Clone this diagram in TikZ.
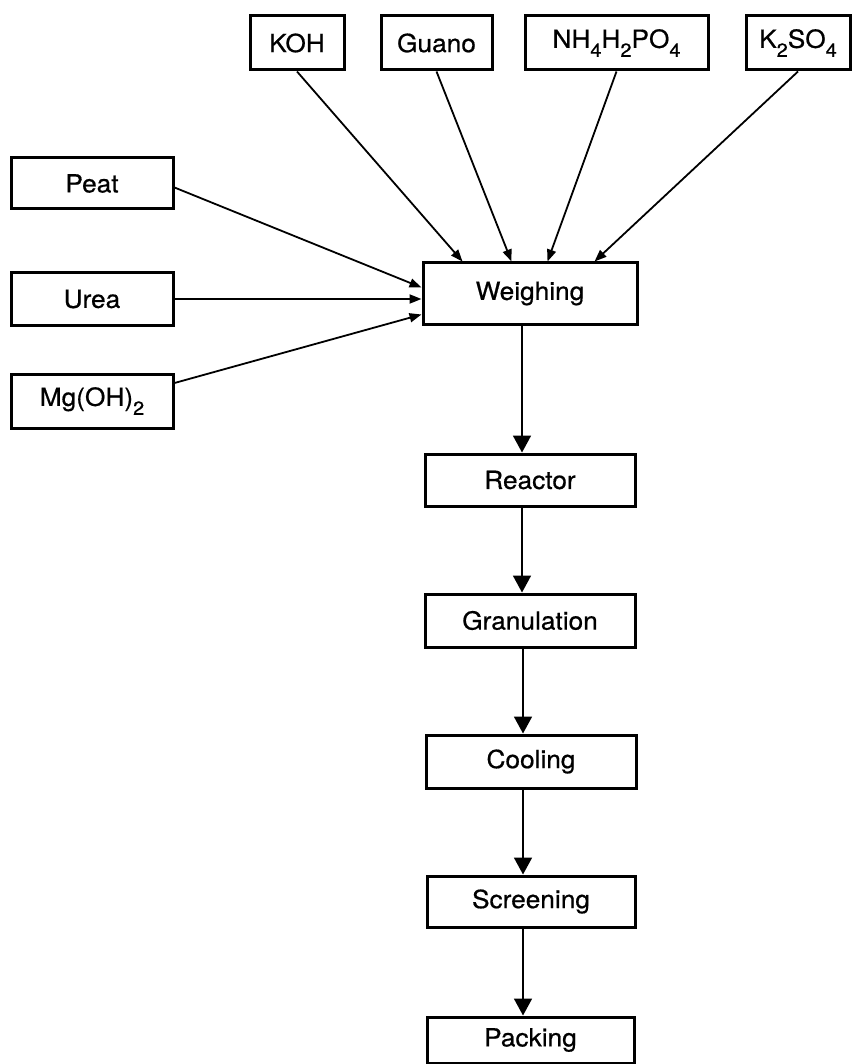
\documentclass[tikz,border=0pt]{standalone}
\usepackage{fontspec}
\setmainfont{TeX Gyre Heros}[FakeStretch=1.05,FakeBold=0.6]
\usetikzlibrary{arrows.meta}
\newcommand\sbs[1]{\raisebox{-9pt}{\fontsize{19}{19}\selectfont #1}}
\begin{document}
\begin{tikzpicture}[x=1pt,y=-1pt,
  box/.style={draw, line width=3pt, inner sep=0pt, font=\fontsize{25}{25}\selectfont},
  feed/.style={line width=1.8pt, -{Triangle[length=12pt,width=9pt]}},
  flow/.style={line width=1.8pt, -{Triangle[length=17pt,width=18pt]}}]
\useasboundingbox (0,0) rectangle (853,1064);
% top feeds
\node[box, minimum width=94pt, minimum height=54pt] (koh) at (297,43) {KOH};
\node[box, minimum width=111pt, minimum height=54pt] (guano) at (436.5,43) {Guano};
\node[box, minimum width=183pt, minimum height=54pt] (nh) at (616.5,43) {NH\sbs{4}H\sbs{2}PO\sbs{4}};
\node[box, minimum width=104pt, minimum height=54pt] (kso) at (798,43) {K\sbs{2}SO\sbs{4}};
% left feeds
\node[box, minimum width=162pt, minimum height=51pt] (peat) at (92,183.5) {Peat};
\node[box, minimum width=162pt, minimum height=52pt] (urea) at (92,299) {Urea};
\node[box, minimum width=162pt, minimum height=54pt] (mg) at (92,401) {Mg(OH)\sbs{2}};
% main chain
\node[box, minimum width=214pt, minimum height=61pt] (weigh) at (530,293.5) {Weighing};
\node[box, minimum width=210pt, minimum height=52pt] (reac) at (530,480) {Reactor};
\node[box, minimum width=210pt, minimum height=53pt] (gran) at (530,620.5) {Granulation};
\node[box, minimum width=210pt, minimum height=53pt] (cool) at (531,761.5) {Cooling};
\node[box, minimum width=208pt, minimum height=51pt] (scr) at (531,901.5) {Screening};
\node[box, minimum width=207pt, minimum height=46pt] (pack) at (530.5,1040) {Packing};
% converging feeds
\draw[feed] (koh.south) -- ([xshift=41pt]weigh.north west);
\draw[feed] (guano.south) -- ([xshift=90pt]weigh.north west);
\draw[feed] (nh.south) -- ([xshift=126pt]weigh.north west);
\draw[feed] (kso.south) -- ([xshift=173pt]weigh.north west);
\draw[feed] ([yshift=-4pt]peat.east) -- ([yshift=6pt]weigh.west);
\draw[feed] (urea.east) -- (urea.east -| weigh.west);
\draw[feed] ([yshift=18pt]mg.east) -- ([yshift=-21pt]weigh.west);
% main flow
\draw[flow] ([xshift=-8pt]weigh.south) -- ([xshift=-8pt]weigh.south |- reac.north);
\draw[flow] ([xshift=-8pt]reac.south) -- ([xshift=-8pt]reac.south |- gran.north);
\draw[flow] ([xshift=-7pt]gran.south) -- ([xshift=-7pt]gran.south |- cool.north);
\draw[flow] ([xshift=-8pt]cool.south) -- ([xshift=-8pt]cool.south |- scr.north);
\draw[flow] ([xshift=-8pt]scr.south) -- ([xshift=-8pt]scr.south |- pack.north);
\end{tikzpicture}
\end{document}
